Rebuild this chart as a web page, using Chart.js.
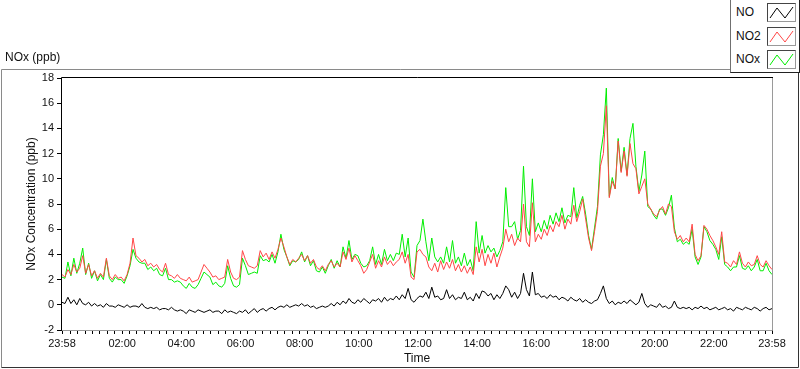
<!DOCTYPE html>
<html>
<head>
<meta charset="utf-8">
<script src="https://cdn.jsdelivr.net/npm/chart.js@4.4.1/dist/chart.umd.min.js"></script>
<style>
  html, body { margin: 0; padding: 0; background: #fff; }
  #wrap { position: relative; width: 800px; height: 369px; font-family: 'Liberation Sans', Arial, sans-serif; color: #111; }
  #chart { position: absolute; left: 0; top: 0; }
  #graph-title { position: absolute; left: 5px; top: 50px; font-size: 12px; }
  #legend { position: absolute; left: 730px; top: -1px; width: 68px; height: 72px; background: #fff;
            border: 1px solid #707070; border-right-color: #222; border-bottom-color: #222; }
  .item { position: absolute; left: 5px; font-size: 12px; line-height: 14px; }
  .swatch { position: absolute; left: 36px; width: 27px; height: 17px; border: 1px solid #444; border-right-color: #999; border-bottom-color: #999; }
</style>
</head>
<body>
<div id="wrap">
  <canvas id="chart" width="800" height="369"></canvas>
  <div id="graph-title">NOx (ppb)</div>
  <div id="legend"></div>
</div>
<script>
// 24 h record, one sample every 6 minutes starting at 23:58
const STEP_MIN = 6;

const seriesNames = ['NO', 'NO2', 'NOx'];
const seriesColors = ['#000000', '#ff4646', '#00ee00'];

const noValues = [
  0.2, 0.1, 0.6, 0.1, 0.4, 0.0, 0.5, 0.1, 0.0, 0.2,
  -0.1, 0.1, -0.1, 0.0, -0.2, 0.1, -0.1, -0.1, -0.2, 0.0,
  -0.1, -0.2, 0.0, -0.2, -0.1, -0.1, -0.2, 0.1, -0.2, -0.3,
  -0.2, -0.3, -0.2, -0.4, -0.3, -0.3, -0.4, -0.2, -0.4, -0.5,
  -0.4, -0.5, -0.7, -0.4, -0.5, -0.6, -0.4, -0.5, -0.6, -0.5,
  -0.4, -0.6, -0.5, -0.5, -0.7, -0.4, -0.6, -0.5, -0.6, -0.7,
  -0.5, -0.6, -0.4, -0.7, -0.5, -0.3, -0.6, -0.4, -0.3, -0.5,
  -0.3, -0.2, -0.4, -0.2, -0.1, -0.2, 0.0, -0.2, -0.1, 0.0,
  -0.1, 0.1, -0.1, 0.0, -0.2, -0.1, -0.3, -0.2, -0.1, -0.2,
  -0.1, 0.1, -0.1, 0.2, 0.0, 0.3, 0.1, 0.5, 0.2, 0.1,
  0.4, 0.2, 0.5, 0.3, 0.1, 0.4, 0.3, 0.5, 0.2, 0.6,
  0.3, 0.5, 0.4, 0.7, 0.4, 0.8, 0.5, 1.3, 0.4, 0.2,
  0.5, 0.7, 0.6, 1.0, 0.5, 1.4, 0.6, 0.7, 0.4, 0.5,
  1.2, 0.5, 0.8, 0.4, 0.6, 0.5, 1.0, 0.4, 0.6, 0.3,
  0.9, 0.5, 1.1, 1.0, 0.7, 0.9, 0.4, 0.8, 0.5, 0.9,
  1.5, 1.2, 0.6, 1.0, 0.5, 0.9, 2.5, 1.2, 0.7, 2.6,
  0.8, 0.9, 0.6, 0.7, 0.5, 0.8, 0.6, 0.7, 0.4, 0.6,
  0.5, 0.3, 0.6, 0.4, 0.3, 0.5, 0.2, 0.4, 0.2, 0.1,
  0.3, 0.4, 0.9, 1.5, 0.5, 0.1, 0.3, 0.0, 0.2, 0.1,
  0.3, 0.1, 0.4, 0.2, 0.0, 0.2, 0.9, 0.1, -0.2, 0.0,
  -0.1, -0.2, 0.1, -0.2, -0.1, -0.3, -0.2, 0.3, -0.2, -0.3,
  -0.2, -0.3, -0.2, -0.4, -0.2, -0.3, -0.1, -0.3, -0.2, -0.4,
  -0.3, -0.2, -0.4, -0.3, -0.2, -0.4, -0.3, -0.5, -0.2, -0.3,
  -0.4, -0.2, -0.3, -0.4, -0.2, -0.3, -0.5, -0.3, -0.2, -0.4, -0.3
];

const no2Values = [
  2.4, 2.2, 2.8, 2.4, 3.2, 2.6, 2.9, 3.9, 2.5, 3.2,
  2.3, 2.7, 2.1, 2.5, 2.2, 3.7, 2.3, 2.0, 2.4, 2.1,
  2.2, 1.9, 2.4, 3.3, 5.3, 3.9, 3.7, 3.4, 3.6, 3.1,
  3.3, 3.0, 3.2, 2.8, 2.6, 3.3, 2.4, 2.3, 2.1, 2.4,
  2.1, 2.0, 1.9, 2.2, 1.8, 1.9, 2.0, 2.6, 3.2, 2.9,
  2.6, 2.2, 2.3, 2.0, 2.1, 2.2, 3.6, 2.6, 2.1, 2.0,
  2.2, 4.3, 3.6, 3.1, 3.0, 2.9, 3.1, 4.3, 3.8, 4.1,
  3.6, 4.2, 3.7, 4.4, 5.3, 4.6, 3.8, 3.2, 3.6, 3.4,
  3.7, 4.0, 3.5, 3.9, 3.3, 3.6, 3.0, 2.8, 3.1, 2.7,
  3.2, 3.5, 3.0, 3.3, 3.0, 4.2, 3.6, 4.5, 3.4, 3.9,
  3.5, 3.1, 2.5, 2.8, 3.4, 4.0, 2.9, 3.5, 3.0, 3.8,
  3.2, 3.5, 3.1, 3.4, 3.6, 4.2, 3.3, 4.0, 2.2, 2.0,
  4.2, 4.4, 4.0, 3.8, 3.0, 2.7, 3.3, 2.6, 3.5, 2.8,
  3.4, 2.9, 3.6, 2.7, 3.2, 2.6, 3.1, 2.5, 3.0, 2.4,
  4.6, 3.4, 4.4, 3.1, 4.0, 3.3, 4.1, 3.0, 3.8, 4.5,
  6.0, 5.0, 5.6, 4.7, 5.3, 5.0, 8.0, 5.0, 4.6, 8.1,
  5.0, 5.6, 5.2, 6.0, 5.5, 6.3, 5.8, 6.6, 6.2, 7.1,
  6.0, 6.8, 6.4, 7.9, 6.6, 7.4, 8.4, 6.8, 5.3, 4.3,
  5.8, 7.4, 11.0, 12.0, 15.8, 8.5, 9.8, 9.2, 13.0, 10.5,
  12.2, 10.2, 12.8, 11.2, 10.8, 8.8, 9.4, 10.0, 8.0, 7.6,
  7.2, 7.0, 7.5, 7.8, 7.2, 8.0, 7.8, 5.8, 5.2, 5.5,
  5.0, 5.3, 5.0, 6.4, 4.0, 3.5, 3.9, 6.3, 6.0, 5.5,
  5.1, 4.6, 4.0, 5.8, 3.4, 3.3, 3.0, 3.5, 3.2, 4.2,
  3.3, 3.0, 3.4, 3.1, 3.2, 3.9, 3.2, 3.0, 3.5, 3.1, 2.8
];

const noxValues = [
  2.2, 2.1, 3.4, 2.3, 3.7, 2.5, 3.3, 4.5, 2.4, 3.3,
  2.1, 2.7, 1.9, 2.4, 2.0, 3.6, 2.1, 1.8, 2.2, 2.0,
  2.0, 1.7, 2.3, 3.1, 4.4, 3.7, 3.4, 3.3, 3.3, 2.8,
  3.0, 2.7, 2.9, 2.4, 2.3, 2.9, 2.0, 2.0, 1.8, 1.9,
  1.8, 1.5, 1.3, 1.7, 1.4, 1.3, 1.6, 2.1, 2.6, 2.4,
  2.2, 1.6, 1.8, 1.5, 1.4, 1.7, 3.1, 2.1, 1.5, 1.4,
  1.6, 3.7, 3.1, 2.4, 2.5, 2.6, 2.5, 3.9, 3.5, 3.6,
  3.4, 4.0, 3.3, 4.2, 5.6, 4.4, 3.8, 3.1, 3.5, 3.4,
  3.6, 4.2, 3.4, 3.9, 3.1, 3.5, 2.7, 2.6, 3.0, 2.5,
  3.1, 3.6, 2.9, 3.5, 3.0, 4.6, 3.7, 5.1, 3.6, 4.0,
  3.9, 3.3, 3.0, 3.1, 3.5, 4.6, 3.2, 4.0, 3.2, 4.4,
  3.5, 4.0, 3.5, 4.1, 4.0, 5.6, 3.8, 5.3, 2.6, 2.2,
  4.7, 5.1, 6.8, 5.0, 3.5, 5.3, 3.8, 3.4, 3.8, 3.3,
  4.6, 3.4, 5.1, 3.3, 3.8, 3.1, 4.1, 3.1, 3.6, 2.7,
  6.6, 4.1, 5.5, 4.1, 4.7, 4.2, 4.5, 3.8, 4.3, 5.0,
  9.3, 6.2, 6.2, 6.6, 5.2, 5.9, 11.0, 6.2, 5.5, 10.0,
  5.8, 6.5, 5.8, 6.7, 6.0, 7.1, 6.4, 7.3, 6.6, 7.7,
  6.5, 7.1, 7.0, 9.3, 6.9, 7.9, 8.6, 7.2, 5.5, 4.4,
  6.1, 7.8, 11.9, 13.5, 17.2, 8.6, 10.1, 9.2, 13.2, 10.6,
  12.5, 10.3, 13.2, 14.4, 11.0, 9.0, 10.3, 12.2, 7.8, 7.6,
  7.1, 6.8, 7.6, 7.6, 7.1, 7.7, 8.7, 6.1, 5.0, 5.2,
  4.8, 5.0, 4.8, 6.0, 3.8, 3.2, 3.8, 6.2, 5.8, 5.1,
  4.8, 4.4, 3.6, 5.4, 3.2, 3.0, 2.7, 3.0, 3.0, 3.9,
  2.9, 2.8, 3.1, 2.7, 3.0, 3.6, 2.7, 2.7, 3.3, 2.7, 2.4
];

// x axis: minutes since 23:58
const majorMinutes = [0, 122, 242, 362, 482, 602, 722, 842, 962, 1082, 1202, 1322, 1440];
const majorLabels = ['23:58', '02:00', '04:00', '06:00', '08:00', '10:00', '12:00',
                     '14:00', '16:00', '18:00', '20:00', '22:00', '23:58'];
const yTicks = [-2, 0, 2, 4, 6, 8, 10, 12, 14, 16, 18];

// small ticks every 15 min, lined up on the whole hours
const tickMinutes = [0];
for (let m = 2; m < 1440; m += 15) {
  if (m > 3 && m < 1437) tickMinutes.push(m);
}
tickMinutes.push(1440);

const toPoints = vals => vals.map((v, i) => ({ x: i * STEP_MIN, y: v }));
const allValues = [noValues, no2Values, noxValues];

const tickFont = { family: 'Liberation Sans', size: 11 };
const titleFont = { family: 'Liberation Sans', size: 12 };

// frame of the panel and of the plot area, LabVIEW style
const framePlugin = {
  id: 'frame',
  beforeDraw(chart) {
    const ctx = chart.ctx;
    ctx.save();
    ctx.lineWidth = 1;
    ctx.strokeStyle = '#8a8a8a';
    ctx.beginPath();
    ctx.moveTo(1.5, 367.5);
    ctx.lineTo(1.5, 69.5);
    ctx.lineTo(799, 69.5);
    ctx.stroke();
    ctx.strokeStyle = '#333';
    ctx.beginPath();
    ctx.moveTo(1.5, 367.5);
    ctx.lineTo(798.5, 367.5);
    ctx.lineTo(798.5, 69.5);
    ctx.stroke();
    ctx.restore();
  },
  afterDraw(chart) {
    const { ctx, chartArea: a } = chart;
    ctx.save();
    ctx.lineWidth = 1;
    ctx.strokeStyle = '#9a9a9a';
    ctx.beginPath();
    ctx.moveTo(a.right + 0.5, a.top);
    ctx.lineTo(a.right + 0.5, a.bottom + 0.5);
    ctx.lineTo(a.left, a.bottom + 0.5);
    ctx.stroke();
    ctx.strokeStyle = '#000';
    ctx.beginPath();
    ctx.moveTo(a.left - 0.5, a.bottom + 1);
    ctx.lineTo(a.left - 0.5, a.top - 0.5);
    ctx.lineTo(a.right + 1, a.top - 0.5);
    ctx.stroke();
    ctx.restore();
  }
};

const chart = new Chart(document.getElementById('chart'), {
  type: 'line',
  data: {
    datasets: seriesNames.map((name, k) => ({
      label: name,
      data: toPoints(allValues[k]),
      borderColor: seriesColors[k],
      borderWidth: 1,
      pointRadius: 0,
      tension: 0,
      fill: false
    }))
  },
  options: {
    responsive: false,
    animation: false,
    events: [],
    layout: { padding: { left: 0, top: 78, right: 28, bottom: 0 } },
    plugins: { legend: { display: false }, tooltip: { enabled: false } },
    scales: {
      x: {
        type: 'linear',
        min: 0,
        max: 1440,
        afterFit: s => { s.height = 39; },
        afterBuildTicks: axis => { axis.ticks = tickMinutes.map(v => ({ value: v })); },
        border: { display: false },
        grid: { drawOnChartArea: false, drawTicks: true, tickLength: 4, tickColor: '#000' },
        ticks: {
          autoSkip: false,
          maxRotation: 0,
          padding: 3,
          color: '#111',
          font: tickFont,
          callback: v => {
            const k = majorMinutes.indexOf(v);
            return k >= 0 ? majorLabels[k] : '';
          }
        },
        title: { display: true, text: 'Time', color: '#111', font: titleFont, padding: { top: 0, bottom: 3 } }
      },
      y: {
        min: -2,
        max: 18,
        afterFit: s => { s.width = 62; },
        afterBuildTicks: axis => { axis.ticks = yTicks.map(v => ({ value: v })); },
        border: { display: false },
        grid: { drawOnChartArea: false, drawTicks: true, tickLength: 5, tickColor: '#000' },
        ticks: { padding: 3, color: '#111', font: tickFont },
        title: { display: true, text: 'NOx Concentration (ppb)', color: '#111', font: titleFont, padding: { top: 24, bottom: 0 } }
      }
    }
  },
  plugins: [framePlugin]
});

// legend box in the top right corner
const legend = document.getElementById('legend');
seriesNames.forEach((name, k) => {
  const top = 3 + k * 23.5;
  const label = document.createElement('div');
  label.className = 'item';
  label.style.top = (top + 2) + 'px';
  label.textContent = name;
  legend.appendChild(label);
  const sw = document.createElement('div');
  sw.className = 'swatch';
  sw.style.top = top + 'px';
  sw.innerHTML = '<svg width="27" height="17"><polyline fill="none" stroke="' + seriesColors[k] +
    '" stroke-width="1" points="2,14 9,4 17,14 25,3"/></svg>';
  legend.appendChild(sw);
});
</script>
</body>
</html>
